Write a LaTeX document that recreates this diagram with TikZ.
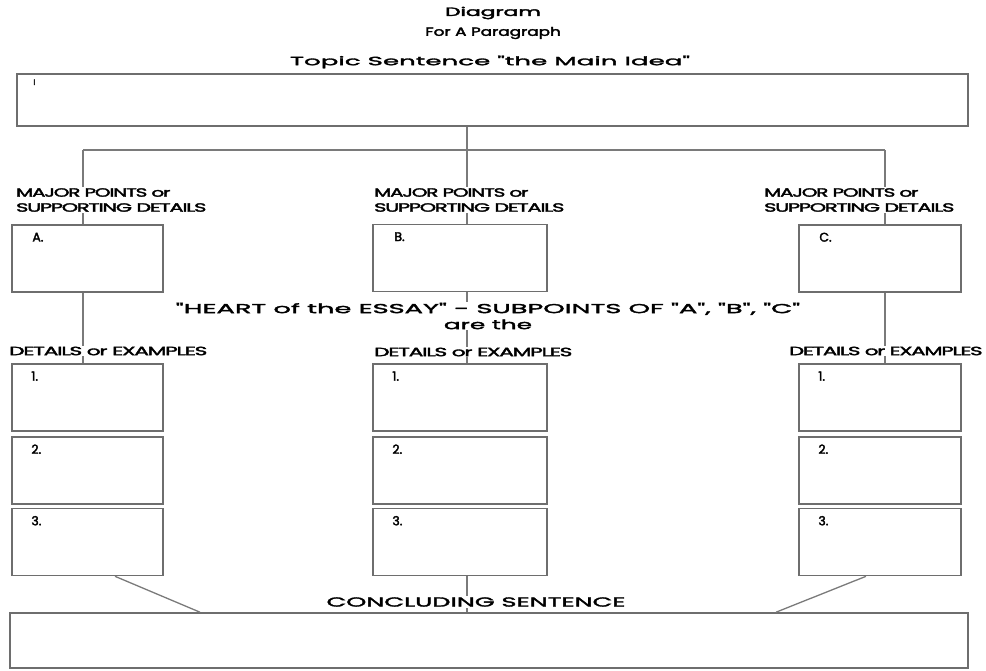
\documentclass[tikz,border=0pt]{standalone}
\usepackage{graphicx}
\usepackage{fontspec}
\setmainfont{Poppins}[FakeBold=2.5]
\newfontfamily\wideface[FakeStretch=1.6,FakeBold=2.5]{Poppins}
\newfontfamily\tightface[FakeStretch=1.1,LetterSpace=-6,FakeBold=2.5]{Poppins}
\newcommand{\sx}[2]{\scalebox{#1}[1]{#2}}
\usetikzlibrary{positioning}
\definecolor{boxgray}{HTML}{6E6E6E}
\definecolor{linegray}{HTML}{7A7A7A}
\tikzset{
  pbox/.style={draw=boxgray, line width=1.6pt, minimum width=#1, minimum height=67pt, inner sep=0pt},
  conn/.style={draw=linegray, line width=1.3pt},
  title/.style={font=\fontsize{12}{14}\selectfont},
  head/.style={font=\wideface\fontsize{12}{14}\selectfont},
  caps/.style={font=\wideface\fontsize{13}{16}\selectfont, fill=white, inner sep=1pt},
  lbl/.style={font=\tightface\fontsize{12}{15}\selectfont, fill=white, align=left, anchor=west, inner sep=1pt},
  boxlbl/.style={font=\fontsize{12.5}{14}\selectfont, anchor=west, inner sep=0pt}
}
\begin{document}
\begin{tikzpicture}[x=1pt,y=-1pt]
    \useasboundingbox (0,0) rectangle (986,670);

    % headings
    \node[title] (ttl) at (493,13) {\sx{1.82}{Diagram}};
    \node[title] (sub) at (493,33) {\sx{1.4}{For A Paragraph}};
    \node[head] (tsh) at (490,62) {\sx{1.36}{Topic Sentence "the Main Idea"}};

    % topic sentence box
    \node[pbox=951pt, minimum height=52pt] (tp) at (492.5,100) {};
    \node[boxlbl, font=\fontsize{8}{9}\selectfont] (tpl) at ([shift={(17,9)}]tp.north west) {I};

    % major points boxes
    \node[pbox=151pt] (ma) at (87.5,258.5) {};
    \node[pbox=174pt] (mb) at (460,258) {};
    \node[pbox=162pt] (mc) at (880,258.5) {};

    % details boxes, three per column
    \foreach \i/\y in {1/397.5, 2/470.5, 3/542} {
        \node[pbox=151pt] (d\i a) at (87.5,\y) {};
        \node[pbox=174pt] (d\i b) at (460,\y) {};
        \node[pbox=162pt] (d\i c) at (880,\y) {};
        \node[boxlbl] (n\i a) at ([shift={(20,13)}]d\i a.north west) {\i.};
        \node[boxlbl] (n\i b) at ([shift={(20,13)}]d\i b.north west) {\i.};
        \node[boxlbl] (n\i c) at ([shift={(20,13)}]d\i c.north west) {\i.};
    }
    \node[boxlbl] (la) at ([shift={(21,13)}]ma.north west) {A.};
    \node[boxlbl] (lb) at ([shift={(22,13)}]mb.north west) {B.};
    \node[boxlbl] (lc) at ([shift={(21,13)}]mc.north west) {C.};

    % concluding sentence box
    \node[pbox=958pt, minimum height=55pt] (cs) at (489,640.5) {};

    % connectors
    \coordinate (ja) at (83,150);
    \coordinate (jb) at (467,150);
    \coordinate (jc) at (885,150);
    \draw[conn] (tp.south -| jb) -- (jb);
    \draw[conn] (ja) -- (jc);
    \foreach \c in {a,b,c} {
        \draw[conn] (j\c) -- (j\c |- m\c.north);
        \draw[conn] (j\c |- m\c.south) -- (j\c |- d1\c.north);
    }
    \draw[conn] ([xshift=27.5pt]d3a.south) -- ([xshift=-289pt]cs.north);
    \draw[conn] (jb |- d3b.south) -- (jb |- cs.north);
    \draw[conn] ([xshift=-14pt]d3c.south) -- ([xshift=287pt]cs.north);

    % labels on top of the lines
    \node[lbl] (mpa) at (15,200) {\sx{1.5}{MAJOR POINTS or}\\\sx{1.57}{SUPPORTING DETAILS}};
    \node[lbl] (mpb) at (373,200) {\sx{1.5}{MAJOR POINTS or}\\\sx{1.57}{SUPPORTING DETAILS}};
    \node[lbl] (mpc) at (763,200) {\sx{1.5}{MAJOR POINTS or}\\\sx{1.57}{SUPPORTING DETAILS}};
    \node[caps, align=center] (hrt) at (488,316) {\sx{1.31}{"HEART of the ESSAY" - SUBPOINTS OF "A", "B", "C"}\\\sx{1.19}{are the}};
    \node[lbl] (dea) at (8,351) {\sx{1.64}{DETAILS or EXAMPLES}};
    \node[lbl] (deb) at (373,352) {\sx{1.64}{DETAILS or EXAMPLES}};
    \node[lbl] (dec) at (788,351) {\sx{1.6}{DETAILS or EXAMPLES}};
    \node[caps] (cst) at (476,602) {\sx{1.23}{CONCLUDING SENTENCE}};
\end{tikzpicture}
\end{document}
